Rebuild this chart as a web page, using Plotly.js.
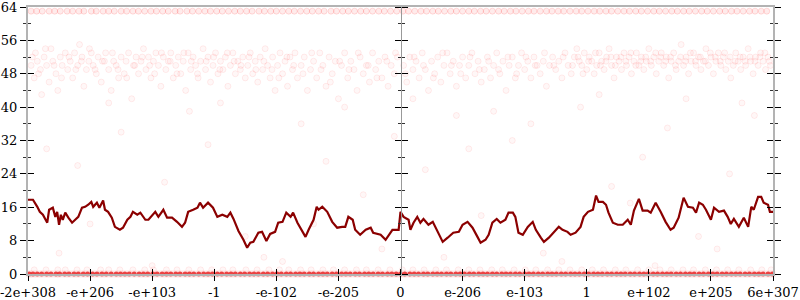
<!DOCTYPE html>
<html><head><meta charset="utf-8">
<script src="https://cdn.plot.ly/plotly-3.0.1.min.js"></script>
<style>html,body{margin:0;padding:0;background:#fff}#c{width:800px;height:300px}</style>
</head><body><div id="c"></div>
<script>
// tick positions (bit-pattern axis, one unit per tick) and their labels
const tickPos = [-6,-5,-4,-3,-2,-1,0,1,2,3,4,5,6];
const tickLabels = ["-2e+308","-e+206","-e+103","-1","-e-102","-e-205","0","e-206","e-103","1","e+102","e+205","6e+307"];

// rolling average line
const avgX = [-6.00,-5.92,-5.85,-5.81,-5.76,-5.69,-5.66,-5.60,-5.56,-5.53,-5.50,-5.47,-5.44,-5.40,-5.35,-5.29,-5.24,-5.19,-5.13,-5.08,-5.03,-4.98,-4.95,-4.89,-4.85,-4.79,-4.76,-4.71,-4.65,-4.60,-4.52,-4.47,-4.40,-4.35,-4.31,-4.24,-4.19,-4.11,-4.06,-4.00,-3.95,-3.90,-3.82,-3.76,-3.68,-3.60,-3.52,-3.47,-3.42,-3.34,-3.27,-3.23,-3.18,-3.10,-3.02,-2.95,-2.87,-2.79,-2.74,-2.69,-2.61,-2.53,-2.47,-2.42,-2.37,-2.29,-2.23,-2.16,-2.10,-2.02,-1.97,-1.90,-1.84,-1.77,-1.73,-1.66,-1.58,-1.53,-1.48,-1.40,-1.35,-1.32,-1.26,-1.18,-1.10,-1.02,-0.94,-0.89,-0.84,-0.77,-0.73,-0.65,-0.56,-0.48,-0.44,-0.32,-0.24,-0.19,-0.13,-0.03,0.00,0.05,0.13,0.16,0.21,0.27,0.32,0.37,0.45,0.52,0.56,0.61,0.68,0.76,0.85,0.94,1.00,1.08,1.16,1.24,1.29,1.37,1.42,1.48,1.55,1.61,1.69,1.74,1.81,1.85,1.90,1.97,2.05,2.13,2.18,2.26,2.31,2.39,2.47,2.55,2.61,2.69,2.74,2.82,2.90,2.95,3.02,3.10,3.15,3.19,3.26,3.31,3.35,3.42,3.50,3.58,3.66,3.71,3.76,3.84,3.90,3.98,4.03,4.11,4.19,4.27,4.35,4.40,4.48,4.56,4.63,4.71,4.76,4.81,4.87,4.92,5.00,5.05,5.13,5.21,5.27,5.32,5.37,5.45,5.53,5.60,5.65,5.69,5.76,5.81,5.85,5.92,5.95,6.00];
const avgY = [17.8,17.8,16.1,14.9,14.2,12.3,15.4,15.9,13.7,14.9,11.8,14.2,13.0,14.7,13.5,12.3,13.0,13.7,15.9,16.1,16.6,17.3,16.1,17.1,15.9,17.6,15.4,14.9,13.5,11.3,10.6,11.1,13.0,13.7,14.9,14.2,14.7,13.0,13.0,14.2,14.9,13.7,15.4,13.5,13.5,12.5,11.3,12.3,14.9,15.4,15.9,17.1,15.9,17.1,15.9,13.7,14.2,13.7,14.7,13.2,10.3,8.2,6.3,7.5,7.7,9.9,10.1,7.9,9.6,10.1,12.3,12.5,14.7,13.7,14.7,12.3,10.1,8.9,10.6,13.0,16.1,15.4,16.1,14.9,12.5,11.1,11.3,11.3,13.7,13.0,10.6,9.4,10.6,11.1,9.9,9.4,8.2,9.4,10.6,10.6,14.9,13.7,13.0,10.6,12.3,13.7,12.3,13.2,11.8,12.5,11.3,9.9,7.7,8.7,9.9,10.1,11.8,12.5,11.1,8.9,7.5,8.2,9.4,12.3,13.2,12.3,13.0,14.7,14.7,13.7,9.9,9.4,11.3,12.5,10.6,8.7,7.7,8.7,10.1,11.3,10.6,10.1,9.4,9.9,11.3,13.7,14.9,15.4,18.8,17.3,17.3,16.6,14.7,12.3,11.8,11.8,13.0,11.8,15.2,18.0,15.2,15.2,14.7,17.1,14.9,12.5,10.6,11.1,13.5,18.3,16.1,15.9,14.7,17.1,16.6,15.4,13.0,15.9,14.9,15.2,13.7,12.0,13.2,11.3,13.5,11.3,16.1,15.4,18.5,18.5,17.1,16.6,14.9,14.9];

// individual samples: rows at 0, 1 and 63
const row0X = [-5.98,-5.92,-5.85,-5.78,-5.70,-5.63,-5.55,-5.49,-5.41,-5.34,-5.26,-5.19,-5.11,-5.04,-4.96,-4.89,-4.81,-4.74,-4.66,-4.58,-4.51,-4.44,-4.37,-4.29,-4.21,-4.14,-4.07,-3.99,-3.92,-3.84,-3.77,-3.70,-3.62,-3.55,-3.47,-3.40,-3.33,-3.25,-3.17,-3.10,-3.03,-2.95,-2.88,-2.80,-2.73,-2.66,-2.58,-2.51,-2.43,-2.36,-2.29,-2.21,-2.14,-2.06,-1.99,-1.92,-1.84,-1.77,-1.69,-1.62,-1.55,-1.47,-1.40,-1.32,-1.25,-1.18,-1.10,-1.03,-0.95,-0.88,-0.81,-0.73,-0.66,-0.58,-0.51,-0.44,-0.36,-0.29,-0.21,-0.14,-0.07,0.00,0.07,0.15,0.22,0.29,0.37,0.44,0.52,0.59,0.66,0.74,0.81,0.89,0.96,1.03,1.11,1.18,1.26,1.33,1.40,1.48,1.55,1.63,1.70,1.77,1.85,1.92,2.00,2.07,2.14,2.22,2.29,2.37,2.44,2.51,2.59,2.66,2.74,2.81,2.88,2.96,3.03,3.11,3.18,3.25,3.33,3.40,3.48,3.55,3.62,3.70,3.77,3.85,3.92,3.99,4.07,4.14,4.22,4.29,4.36,4.44,4.51,4.59,4.66,4.73,4.81,4.88,4.96,5.03,5.10,5.18,5.25,5.33,5.40,5.47,5.55,5.62,5.70,5.77,5.84,5.92,5.99];
const row1X = [-5.90,-5.71,-5.52,-5.40,-5.21,-5.05,-4.83,-4.70,-4.52,-4.31,-4.12,-3.98,-3.77,-3.60,-3.41,-3.22,-3.04,-2.86,-2.70,-2.49,-2.31,-2.12,-1.95,-1.80,-1.61,-1.44,-1.25,-1.08,-0.90,-0.71,-0.55,-0.36,-0.17,0.03,0.20,0.38,0.57,0.74,0.93,1.10,1.28,1.47,1.64,1.83,2.01,2.18,2.37,2.55,2.73,2.92,3.09,3.27,3.46,3.63,3.82,4.00,4.18,4.36,4.55,4.72,4.91,5.09,5.27,5.45,5.64,5.82,5.97];
const row63X = [-5.95,-5.86,-5.77,-5.66,-5.57,-5.48,-5.37,-5.28,-5.18,-5.10,-4.98,-4.90,-4.79,-4.70,-4.61,-4.50,-4.41,-4.31,-4.22,-4.12,-4.02,-3.93,-3.83,-3.74,-3.63,-3.55,-3.44,-3.35,-3.25,-3.15,-3.06,-2.96,-2.87,-2.77,-2.67,-2.58,-2.48,-2.39,-2.28,-2.19,-2.09,-2.00,-1.90,-1.80,-1.71,-1.61,-1.51,-1.42,-1.32,-1.23,-1.12,-1.03,-0.93,-0.84,-0.74,-0.64,-0.55,-0.45,-0.35,-0.26,-0.16,-0.06,0.04,0.13,0.23,0.33,0.42,0.52,0.61,0.71,0.81,0.90,1.00,1.10,1.19,1.29,1.38,1.48,1.58,1.67,1.77,1.86,1.96,2.06,2.15,2.25,2.35,2.44,2.54,2.63,2.73,2.83,2.92,3.02,3.12,3.21,3.31,3.40,3.50,3.60,3.69,3.79,3.88,3.98,4.08,4.17,4.27,4.37,4.46,4.56,4.65,4.75,4.85,4.94,5.04,5.14,5.23,5.33,5.42,5.52,5.62,5.71,5.81,5.90];

// individual samples elsewhere (mostly 40-56)
const scatX = [-5.95,-5.9,-5.88,-5.85,-5.8,-5.78,-5.74,-5.7,-5.66,-5.63,-5.6,-5.55,-5.52,-5.48,-5.45,-5.4,-5.36,-5.32,-5.28,-5.25,-5.2,-5.17,-5.13,-5.1,-5.06,-5.02,-4.98,-4.95,-4.9,-4.87,-4.82,-4.8,-4.75,-4.7,-4.66,-4.62,-4.58,-4.54,-4.5,-4.45,-4.42,-4.38,-4.33,-4.3,-4.26,-4.22,-4.18,-4.14,-4.1,-4.06,-4.02,-3.98,-3.94,-3.9,-3.86,-3.82,-3.78,-3.74,-3.7,-3.66,-3.62,-3.58,-3.54,-3.5,-3.46,-3.42,-3.38,-3.34,-3.3,-3.26,-3.22,-3.18,-3.14,-3.1,-3.06,-3.02,-2.98,-2.94,-2.9,-2.86,-2.82,-2.78,-2.74,-2.7,-2.66,-2.62,-2.58,-2.54,-2.5,-2.46,-2.42,-2.38,-2.34,-2.3,-2.26,-2.22,-2.18,-2.14,-2.1,-2.06,-2.02,-1.98,-1.94,-1.9,-1.86,-1.82,-1.78,-1.74,-1.7,-1.66,-1.6,-1.55,-1.5,-1.45,-1.4,-1.35,-1.3,-1.25,-1.2,-1.15,-1.1,-1.05,-1.0,-0.95,-0.9,-0.85,-0.8,-0.75,-0.7,-0.65,-0.6,-0.55,-0.5,-0.45,-0.4,-0.35,-0.3,-0.25,-0.2,-0.15,-0.1,-0.05,0.05,0.1,0.15,0.2,0.25,0.3,0.35,0.4,0.45,0.5,0.55,0.6,0.65,0.7,0.75,0.8,0.85,0.9,0.95,1.0,1.05,1.1,1.15,1.2,1.25,1.3,1.35,1.4,1.45,1.5,1.55,1.6,1.65,1.7,1.75,1.8,1.85,1.9,1.95,2.0,2.05,2.1,2.15,2.2,2.25,2.3,2.35,2.4,2.45,2.5,2.55,2.6,2.65,2.7,2.75,2.8,2.84,2.88,2.92,2.96,3.0,3.04,3.08,3.12,3.16,3.2,3.24,3.28,3.32,3.36,3.4,3.44,3.48,3.52,3.56,3.6,3.64,3.68,3.72,3.76,3.8,3.84,3.88,3.92,3.96,4.0,4.04,4.08,4.12,4.16,4.2,4.24,4.28,4.32,4.36,4.4,4.44,4.48,4.52,4.56,4.6,4.64,4.68,4.72,4.76,4.8,4.84,4.88,4.92,4.96,5.0,5.04,5.08,5.12,5.16,5.2,5.24,5.28,5.32,5.36,5.4,5.44,5.48,5.52,5.56,5.6,5.64,5.68,5.72,5.76,5.8,5.84,5.88,5.92,5.96,
  -5.7,-5.2,-4.5,-3.8,-3.1,-2.5,-2.2,-1.6,-1.2,-0.6,-0.3,0.4,0.9,1.3,1.8,2.3,2.9,3.4,3.9,4.3,4.8,5.3,5.7,-4.0,-1.9,2.6,4.1,-5.5,-0.9,0.2,1.5,3.2,-2.9,4.6,5.5,-4.7,-3.4,2.1,-0.1,1.1,3.7,-5.0,5.1,-1.4,0.7,
  -5.93,-5.83,-5.72,-5.58,-5.46,-5.34,-5.23,-5.14,-5.01,-4.92,-4.77,-4.64,-4.55,-4.41,-4.28,-4.16,-4.04,-3.96,-3.85,-3.71,-3.6,-3.49,-3.37,-3.27,-3.13,-3.01,-2.91,-2.79,-2.68,-2.57,-2.44,-2.33,-2.2,-2.07,-1.96,-1.83,-1.72,-1.57,-1.43,-1.28,-1.13,-0.98,-0.83,-0.68,-0.52,-0.38,-0.22,-0.08,0.08,0.22,0.37,0.53,0.68,0.82,0.97,1.12,1.27,1.42,1.58,1.73,1.87,2.02,2.17,2.32,2.47,2.62,2.77,2.86,2.94,3.03,3.14,3.22,3.31,3.39,3.46,3.55,3.63,3.71,3.79,3.87,3.95,4.03,4.11,4.19,4.27,4.35,4.43,4.51,4.59,4.67,4.75,4.83,4.91,4.99,5.07,5.15,5.22,5.31,5.39,5.47,5.55,5.63,5.71,5.79,5.87,5.94];
const scatY = [50,47,53,51,49,43,52,50,46,54,51,48,44,52,50,53,49,51,47,53,50,55,52,45,49,51,53,50,48,52,46,51,53,49,44,51,50,47,52,48,51,53,42,50,52,48,51,54,49,52,47,51,53,50,45,52,49,51,53,47,50,52,48,51,44,53,49,52,50,47,51,54,49,52,46,50,53,48,51,49,52,45,50,53,48,51,49,52,47,50,53,48,51,46,52,49,54,50,47,52,44,50,53,48,51,45,52,49,53,47,50,52,44,49,51,47,53,50,45,52,48,51,42,50,53,47,51,49,44,52,48,50,46,53,49,51,47,52,45,50,48,52,50,46,52,49,51,47,53,49,44,51,48,52,46,50,53,48,51,45,50,52,47,50,53,48,51,46,49,52,47,50,53,48,51,44,50,52,47,50,53,49,51,47,52,50,48,51,45,50,52,49,51,47,53,50,48,52,54,51,50,53,49,52,51,48,50,53,51,49,52,54,50,47,52,51,49,53,50,52,48,51,53,50,52,49,51,54,50,52,48,51,53,50,52,47,51,53,49,51,55,50,52,48,51,53,50,52,49,51,54,50,52,48,51,53,50,52,49,51,47,50,53,51,49,52,50,54,51,48,52,50,53,51,49,52,50,
  30,26,34,22,31,9,4,36,27,19,6,25,38,14,32,5,40,21,28,35,9,24,38,2,3,3,2,5,40,42,39,43,41,42,41,41,39,36,33,30,17,12,6,12,4,
  52,48,54,50,47,52,49,51,54,49,51,53,49,47,50,52,50,48,53,51,48,53,51,48,51,52,49,53,51,50,52,49,51,49,47,52,50,48,53,49,46,51,49,53,50,47,51,53,48,52,50,47,53,50,48,52,49,51,49,52,48,52,50,53,50,52,50,52,48,51,53,50,51,52,50,52,51,53,50,51,52,51,53,52,51,52,50,52,51,53,51,52,51,53,52,51,53,52,51,52,51,52,51,52,53,51];

const faint = {size:6, color:'rgba(255,60,60,0.045)', line:{color:'rgba(255,0,0,0.07)', width:1}};
const serif = '"DejaVu Serif", "Liberation Serif", serif';

const traces = [
  {x: row1X, y: row1X.map(() => 1), type:'scatter', mode:'markers', cliponaxis:false, hoverinfo:'skip', marker: faint},
  {x: row0X, y: row0X.map(() => 0), type:'scatter', mode:'markers', cliponaxis:false, hoverinfo:'skip',
   marker:{size:5, color:'rgba(230,35,35,0.85)', line:{width:0}}},
  {x: row0X, y: row0X.map(() => 0), type:'scatter', mode:'markers', cliponaxis:false, hoverinfo:'skip',
   marker:{size:8, color:'rgba(255,60,60,0.08)', line:{width:0}}},
  {x: row63X, y: row63X.map(() => 63), type:'scatter', mode:'markers', cliponaxis:false, hoverinfo:'skip',
   marker:{size:6, color:'rgba(255,60,60,0.1)', line:{color:'rgba(255,0,0,0.12)', width:1}}},
  {x: scatX, y: scatY, type:'scatter', mode:'markers', cliponaxis:false, hoverinfo:'skip', marker: faint},
  {x: avgX, y: avgY, type:'scatter', mode:'lines', line:{color:'#8b0000', width:2.2}, hoverinfo:'skip'},
  // helper empty traces so extra tick axes are drawn
  {x:[null], y:[null], xaxis:'x2', yaxis:'y2', showlegend:false},
  {x:[null], y:[null], xaxis:'x', yaxis:'y3', showlegend:false},
  {x:[null], y:[null], xaxis:'x', yaxis:'y4', showlegend:false}
];

const yTicks = {range:[0,64], dtick:8, tick0:0, showgrid:false, zeroline:false, tickcolor:'#000', tickwidth:1, ticklen:6,
  minor:{dtick:4, ticklen:3, tickcolor:'#333', tickwidth:1}};

const layout = {
  width:800, height:300, showlegend:false,
  margin:{l:28, r:27, t:7, b:26},
  paper_bgcolor:'#fff', plot_bgcolor:'#fff',
  font:{family:serif, size:13, color:'#000'},
  xaxis:{range:[-6,6], tickvals:tickPos, ticktext:tickLabels, ticks:'outside', ticklen:5, tickcolor:'#000',
    showline:true, linecolor:'#b3b3b3', linewidth:2, mirror:true, showgrid:false, zeroline:false,
    ticklabeloverflow:'allow', tickfont:{family:serif, size:13, color:'#000'}},
  xaxis2:{overlaying:'x', anchor:'y', side:'bottom', range:[-6,6], tickvals:tickPos, ticks:'inside', ticklen:5,
    tickcolor:'#000', showticklabels:false, showline:false, showgrid:false, zeroline:false},
  yaxis: Object.assign({}, yTicks, {ticks:'outside', mirror:'ticks', showline:true, linecolor:'#b3b3b3', linewidth:2,
    minor:Object.assign({}, yTicks.minor, {ticks:'outside'}), ticklabeloverflow:'allow',
    tickfont:{family:serif, size:13, color:'#000'}}),
  yaxis2: Object.assign({}, yTicks, {overlaying:'y', ticks:'inside', mirror:'ticks', showline:false, showticklabels:false,
    minor:Object.assign({}, yTicks.minor, {ticks:'inside'})}),
  yaxis3: Object.assign({}, yTicks, {overlaying:'y', anchor:'free', position:0.5, side:'left', ticks:'outside',
    showline:true, linecolor:'#999', linewidth:1.5, showticklabels:false,
    minor:Object.assign({}, yTicks.minor, {ticks:'outside'})}),
  yaxis4: Object.assign({}, yTicks, {overlaying:'y', anchor:'free', position:0.5, side:'right', ticks:'outside',
    showline:false, showticklabels:false,
    minor:Object.assign({}, yTicks.minor, {ticks:'outside'})})
};

Plotly.newPlot('c', traces, layout, {staticPlot:true, displayModeBar:false});
</script>
</body></html>
